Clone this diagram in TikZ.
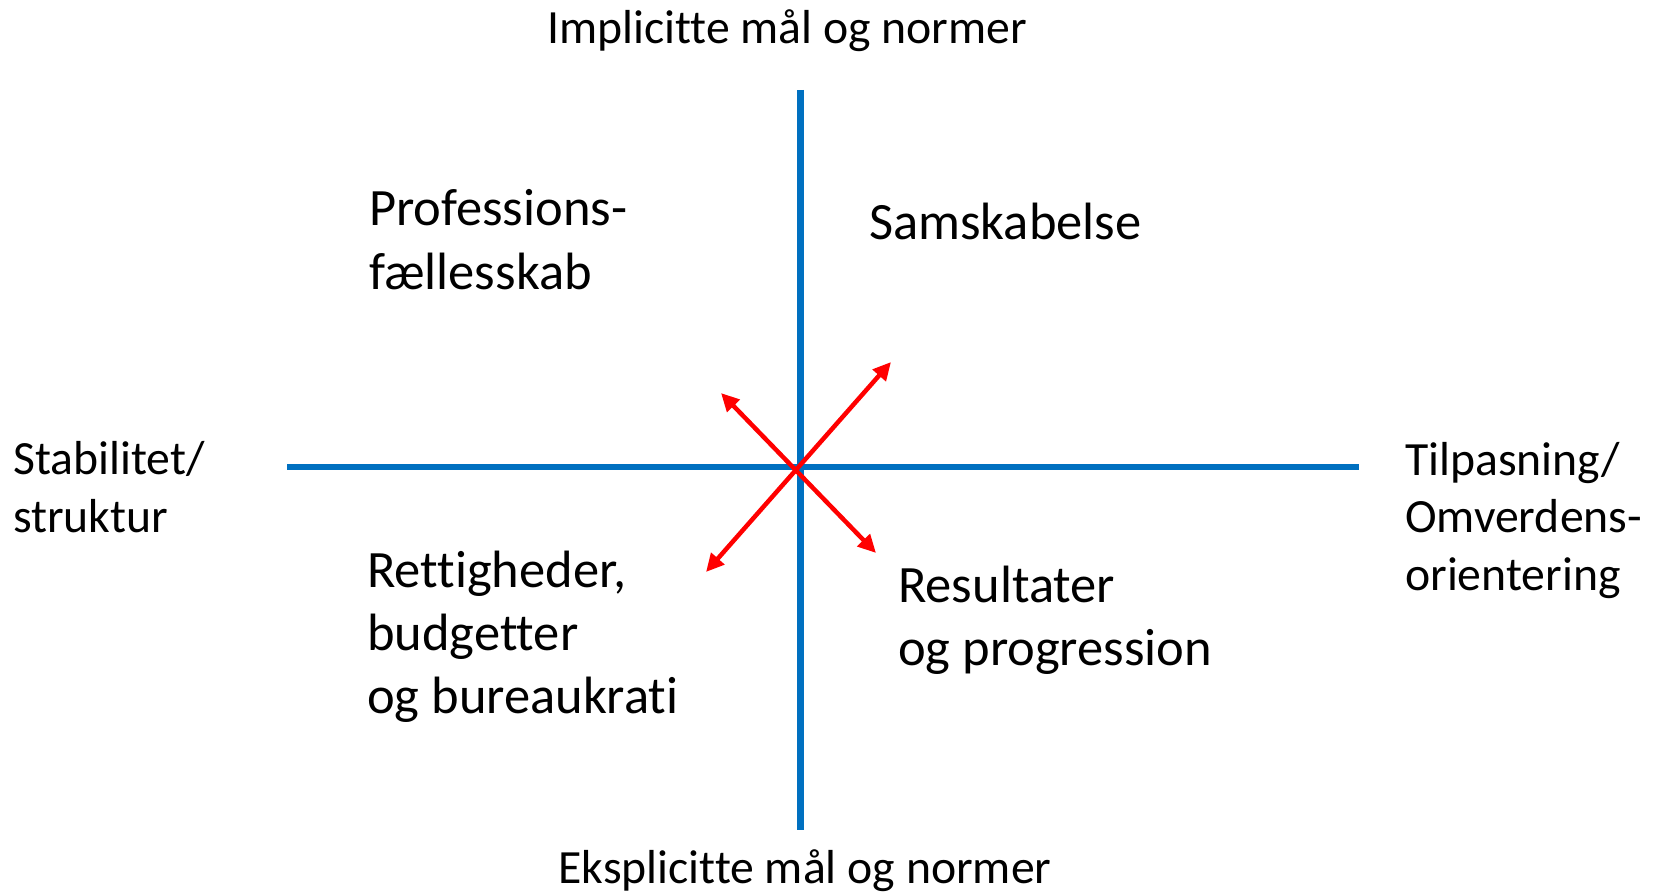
\documentclass[tikz,border=0pt]{standalone}
\usepackage{fontspec}
\setmainfont{Carlito}[Ligatures={TeX,NoCommon}]
\usetikzlibrary{arrows.meta}
\definecolor{axisblue}{RGB}{0,112,192}
\newcommand{\tipsize}{length=18pt,width=17pt}

\begin{document}
\begin{tikzpicture}[x=1pt,y=-1pt,
    axis/.style={draw=axisblue, line width=6.5pt},
    pull/.style={draw=red, line width=4.5pt, {Triangle[\tipsize]}-{Triangle[\tipsize]}},
    axlabel/.style={inner sep=0, anchor=base west, align=left, font=\fontsize{47.7}{57.5}\selectfont},
    quadlabel/.style={inner sep=0, anchor=base west, align=left, font=\fontsize{52.5}{63}\selectfont}]

        \useasboundingbox (0,0) rectangle (1656,893);

          % axes
        \coordinate (axtop) at (800.5,90);
        \coordinate (axbot) at (800.5,830);
        \coordinate (axleft) at (287,467);
        \coordinate (axright) at (1359,467);
        \draw[axis] (axtop) -- (axbot);
        \draw[axis] (axleft) -- (axright);

          % arrows through the middle
        \coordinate (ne) at (891,362);
        \coordinate (sw) at (706,572);
        \coordinate (nw) at (721,393);
        \coordinate (se) at (876,553);
        \draw[pull] (sw) -- (ne);
        \draw[pull] (nw) -- (se);

          % axis labels (base = last line)
        \node (impl) at (787,44) [axlabel, anchor=base] {Implicitte mål og normer};
        \node (ekspl) at (805,883) [axlabel, anchor=base] {Eksplicitte mål og normer};
        \node (stab) at (13,532) [axlabel] {Stabilitet/\\struktur};
        \node (tilp) at (1405,590) [axlabel] {Tilpasning/\\Omverdens-\\orientering};

          % quadrants
        \node (prof) at (369,289) [quadlabel] {Professions-\\fællesskab};
        \node (sams) at (869,240) [quadlabel] {Samskabelse};
        \node (ret) at (367,713) [quadlabel] {Rettigheder,\\budgetter\\og bureaukrati};
        \node (res) at (898,665) [quadlabel] {Resultater\\og progression};

\end{tikzpicture}
\end{document}
